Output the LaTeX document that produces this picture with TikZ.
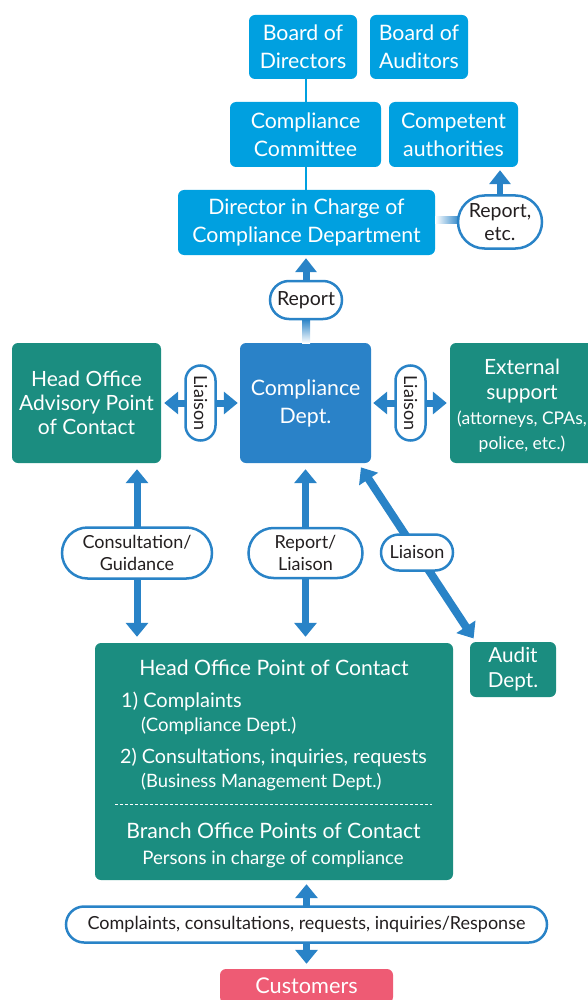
\documentclass[tikz,border=0pt]{standalone}
\usepackage{fontspec}
\setmainfont{Lato}
\usetikzlibrary{positioning,arrows.meta,shapes.misc,calc}

\definecolor{skyblue}{RGB}{0,160,224}
\definecolor{deptblue}{RGB}{42,130,200}
\definecolor{arrowblue}{RGB}{41,131,199}
\definecolor{orgteal}{RGB}{27,141,128}
\definecolor{custpink}{RGB}{238,91,116}
\definecolor{inkgray}{RGB}{35,31,32}

\tikzset{
  box/.style={rounded corners=6pt, text=white, align=center, inner sep=0pt,
    font=\fontsize{21.3}{28}\selectfont},
  pill/.style={rounded rectangle, draw=arrowblue, line width=2.5pt, fill=white,
    text=inkgray, align=center, inner sep=0pt, font=\fontsize{18}{22}\selectfont},
  inbox/.style={text=white, inner sep=0pt},
  bigarrow/.style={draw=arrowblue, line width=7pt, -{Triangle[width=21pt,length=14pt]}},
  dblarrow/.style={draw=arrowblue, line width=7pt,
    {Triangle[width=22pt,length=14pt]}-{Triangle[width=22pt,length=14pt]}},
}

\begin{document}
\begin{tikzpicture}[x=1pt,y=-1pt]
\useasboundingbox (0,0) rectangle (588,1000);

% management
\node[box, fill=skyblue, minimum width=108pt, minimum height=64pt] (bod) at (303,47) {Board of\\Directors};
\node[box, fill=skyblue, minimum width=98pt, minimum height=64pt] (boa) at (419,47) {Board of\\Auditors};
\node[box, fill=skyblue, minimum width=151pt, minimum height=65pt] (ccom) at (305.5,134.5) {Compliance\\Committee};
\node[box, fill=skyblue, minimum width=129pt, minimum height=65pt] (auth) at (453.5,134.5) {Competent\\authorities};
\node[box, fill=skyblue, minimum width=257pt, minimum height=65pt] (dir) at (306.5,222.5) {Director in Charge of\\Compliance Department};
\draw[skyblue, line width=2pt] (bod.south -| ccom) -- (ccom.north);
\draw[skyblue, line width=2pt] (ccom.south) -- (ccom.south |- dir.north);

% middle row
\node[box, fill=deptblue, minimum width=131pt, minimum height=120pt] (comp) at (305.5,403) {Compliance\\Dept.};
\node[box, fill=orgteal, minimum width=149pt, minimum height=120pt, font=\fontsize{21}{24}\selectfont] (hoadv) at (86.5,403) {Head Office\\Advisory Point\\of Contact};
\node[box, fill=orgteal, minimum width=149pt, minimum height=120pt] (ext) at (524.5,403) {};
\node[inbox, align=center, font=\fontsize{21}{25}\selectfont] (extxt) at (522,406)
  {External\\support\\\fontsize{17.5}{26}\selectfont(attorneys, CPAs,\\\fontsize{17.5}{25}\selectfont police, etc.)};
\node[box, fill=orgteal, minimum width=86pt, minimum height=55pt, font=\fontsize{20.7}{25}\selectfont] (audit) at (513,669.5) {Audit\\Dept.};

% points of contact
\node[box, fill=orgteal, minimum width=358pt, minimum height=237pt] (hopoc) at (274,761.5) {};
\node[inbox, font=\fontsize{21.2}{24}\selectfont] (hotitle) at (274,668) {Head Office Point of Contact};
\node[inbox, anchor=west, font=\fontsize{20}{24}\selectfont] (item1) at (121,701) {1) Complaints};
\node[inbox, anchor=west, font=\fontsize{18.6}{22}\selectfont] (item1b) at (141,726) {(Compliance Dept.)};
\node[inbox, anchor=west, font=\fontsize{19.7}{24}\selectfont] (item2) at (120,758) {2) Consultations, inquiries, requests};
\node[inbox, anchor=west, font=\fontsize{18.4}{22}\selectfont] (item2b) at (141,782) {(Business Management Dept.)};
\draw[white, line width=0.8pt, dash pattern=on 3pt off 2pt] (115,804) -- (432,804);
\node[inbox, font=\fontsize{21.2}{24}\selectfont] (branch) at (273.5,831) {Branch Office Points of Contact};
\node[inbox, font=\fontsize{18.6}{22}\selectfont] (persons) at (273,859) {Persons in charge of compliance};

\node[box, fill=custpink, minimum width=173pt, minimum height=34pt, font=\fontsize{21.7}{26}\selectfont] (cust) at (306.5,986) {Customers};

% report lines
\shade[top color=arrowblue, bottom color=white] (302,319) rectangle (310,343);
\coordinate (repx) at (306,281);
\draw[bigarrow, shorten >=3pt] (repx) -- (repx |- dir.south);
\node[pill, minimum width=72pt, minimum height=38pt, font=\fontsize{19.5}{23}\selectfont] (rep) at (306,300) {Report};

\shade[left color=white, right color=arrowblue] (dir.east |- 0,217) rectangle (460,224);
\node[pill, minimum width=84pt, minimum height=53pt, font=\fontsize{19.5}{23}\selectfont] (repetc) at (500,222) {Report,\\etc.};
\draw[bigarrow, line width=6pt, shorten >=3pt] (repetc.north) -- (repetc.north |- auth.south);

% liaison
\draw[dblarrow, shorten <=3pt, shorten >=2pt] (hoadv) -- node[pill, rotate=-90, minimum width=75pt, minimum height=30pt] (liaL) {Liaison} (comp);
\draw[dblarrow, shorten <=2pt, shorten >=3pt] (comp) -- node[pill, rotate=-90, minimum width=75pt, minimum height=30pt] (liaR) {Liaison} (ext);

\coordinate (cgx) at (137,0);
\draw[dblarrow, shorten <=6pt, shorten >=6pt] (hoadv.south -| cgx) -- node[pill, minimum width=150pt, minimum height=51pt] (cg) {Consultation/\\Guidance} (hopoc.north -| cgx);
\draw[dblarrow, shorten <=6pt, shorten >=6pt] (comp.south) -- node[pill, minimum width=114pt, minimum height=50pt] (rl) {Report/\\Liaison} (comp.south |- hopoc.north);
\draw[dblarrow, line width=8pt, shorten <=5pt, shorten >=4pt] ([xshift=-13pt]comp.south east) -- node[pill, minimum width=72pt, minimum height=36pt] (lia3) {Liaison} ([xshift=6pt]audit.north west);

\draw[dblarrow, shorten <=4pt, shorten >=5pt] (cust.north |- hopoc.south) -- node[pill, minimum width=481pt, minimum height=36pt] (cpl) {Complaints, consultations, requests, inquiries/Response} (cust.north);
\end{tikzpicture}
\end{document}
